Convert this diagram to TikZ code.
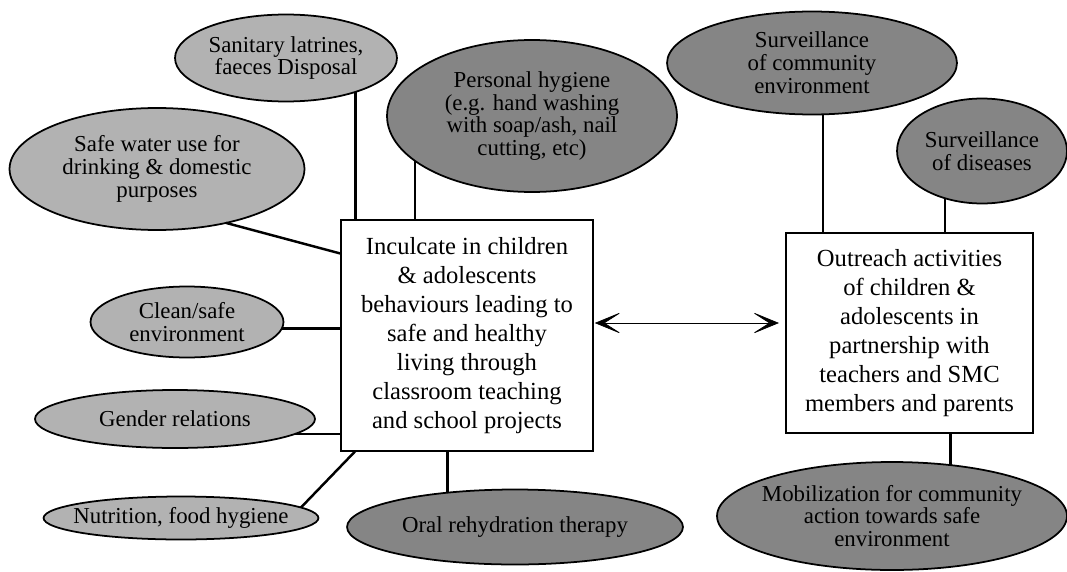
\documentclass[tikz,border=0pt]{standalone}
\usepackage{fontspec}
\setmainfont{Liberation Serif}
\usetikzlibrary{shapes.geometric,arrows.meta}

\begin{document}
\begin{tikzpicture}[x=0.02cm,y=-0.02cm,
    spot/.style={draw,line width=1pt,ellipse,fill=black!30,inner xsep=-0.8cm,inner ysep=-0.4cm,outer sep=0,
      align=center,font=\fontsize{13}{13}\selectfont},
    dense/.style={spot,fill=black!48},
    aim/.style={draw,line width=1.3pt,rectangle,align=center,inner sep=0,outer sep=0,
      font=\fontsize{14}{16.5}\selectfont},
    link/.style={line width=1.4pt},
    barbtip/.tip={Stealth[length=5.6mm,width=4.6mm,inset=3.6mm]}]
  \useasboundingbox (0,0) rectangle (1067,571);

  \node[aim,minimum width=5.04cm,minimum height=4.62cm] (teach) at (467,335.5)
    {Inculcate in children\\ \& adolescents\\ behaviours leading to\\ safe and healthy\\ living through\\ classroom teaching\\ and school projects};
  \node[aim,minimum width=4.94cm,minimum height=4cm] (reach) at (909.5,333)
    {Outreach activities\\ of children \&\\ adolescents in\\ partnership with\\ teachers and SMC\\ members and parents};

  \node[spot,minimum width=4.44cm,minimum height=1.74cm] (latrine) at (286,58) {Sanitary latrines,\\ faeces Disposal};
  \node[dense,minimum width=5.8cm,minimum height=3.04cm] (hygiene) at (532,116) {Personal hygiene\\ (e.g. hand washing\\ with soap/ash, nail\\ cutting, etc)};
  \node[spot,minimum width=5.9cm,minimum height=2.44cm] (water) at (157,169) {Safe water use for\\ drinking \& domestic\\ purposes};
  \node[spot,minimum width=3.86cm,minimum height=1.42cm] (clean) at (187,322) {Clean/safe\\ environment};
  \node[spot,minimum width=5.6cm,minimum height=1.16cm] (gender) at (175,419) {Gender relations};
  \node[spot,minimum width=5.5cm,minimum height=0.86cm] (food) at (181,518) {Nutrition, food hygiene};
  \node[dense,minimum width=6.72cm,minimum height=1.5cm] (ors) at (515,527) {Oral rehydration therapy};
  \node[dense,minimum width=5.8cm,minimum height=2.06cm] (survenv) at (812,63) {Surveillance\\ of community\\ environment};
  \node[dense,minimum width=3.4cm,minimum height=2.1cm] (survdis) at (982,151) {Surveillance\\ of diseases};
  \node[dense,minimum width=7cm,minimum height=2.16cm] (mobil) at (892,516) {Mobilization for community\\ action towards safe\\ environment};

  % links to the school box
  \draw[link] (latrine.-26) -- (latrine.-26 |- teach.north);
  \draw[link] (hygiene.201) -- (hygiene.201 |- teach.north);
  \draw[link] (water.-38) -- (teach.147);
  \draw[link] (clean.-4) -- (clean.-4 -| teach.west);
  \draw[link] (gender.-7) -- (gender.-7 -| teach.west);
  \draw[link] (food.5) -- (teach.226);
  \draw[link] (ors.153) -- (ors.153 |- teach.south);

  % links to the outreach box
  \draw[link] (survenv.-78) -- (survenv.-78 |- reach.north);
  \draw[link] (survdis.-128) -- (survdis.-128 |- reach.north);
  \draw[link] (mobil.41) -- (mobil.41 |- reach.south);

  \draw[barbtip-barbtip,thin,shorten <=1pt,shorten >=4pt]
    ([yshift=0.25cm]teach.east) -- ([yshift=0.25cm]teach.east -| reach.west);
\end{tikzpicture}
\end{document}
